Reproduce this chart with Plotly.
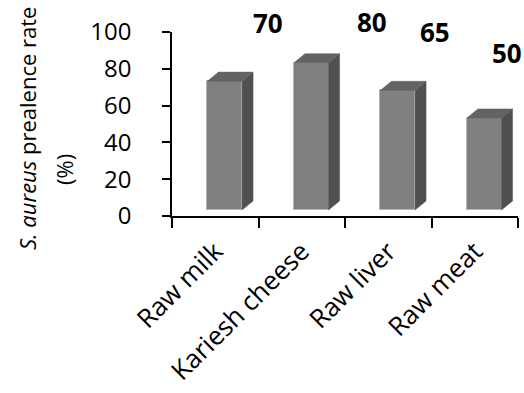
import plotly.graph_objects as go

# Prevalence of S. aureus by sample type
categories = ["Raw milk", "Kariesh cheese", "Raw liver", "Raw meat"]
prevalence = [70, 80, 65, 50]
value_labels = ["70", "80", "65", "50"]

# label anchor positions (axis units) for the value annotations
label_x = [0.61, 1.81, 2.54, 3.37]
label_y = [105, 105.5, 100, 88.6]

FONT = "Open Sans"
floor = 3.3          # raised floor of the pseudo-3D bars
bar_shift = 0.11     # bars sit slightly right of the category centre
bar_w = 0.40
depth_x = 0.127      # oblique depth of the extruded faces
depth_y = 4.9
x_range = [-0.5, 3.5]
y_range = [0, 100]

front_col = "#808080"
side_col = "#505050"
top_col = "#636363"

fig = go.Figure()

xs = [i + bar_shift for i in range(len(categories))]

# side and top faces of each bar
for xc, v in zip(xs, prevalence):
    x0, x1 = xc - bar_w / 2, xc + bar_w / 2
    top = floor + v
    fig.add_trace(go.Scatter(
        x=[x1, x1 + depth_x, x1 + depth_x, x1, x1],
        y=[floor, floor + depth_y, top + depth_y, top, floor],
        fill="toself", fillcolor=side_col, mode="lines",
        line=dict(color=side_col, width=0.5), hoverinfo="skip", showlegend=False))
    fig.add_trace(go.Scatter(
        x=[x0, x0 + depth_x, x1 + depth_x, x1, x0],
        y=[top, top + depth_y, top + depth_y, top, top],
        fill="toself", fillcolor=top_col, mode="lines",
        line=dict(color=top_col, width=0.5), hoverinfo="skip", showlegend=False))

# front faces
fig.add_trace(go.Bar(
    x=xs, y=prevalence, base=floor, width=bar_w,
    marker=dict(color=front_col, line=dict(color="#b4b4b4", width=1)),
    showlegend=False, hoverinfo="skip"))

# value labels sit above the plot area, so place them in paper units
for lx, ly, t in zip(label_x, label_y, value_labels):
    px = (lx - x_range[0]) / (x_range[1] - x_range[0])
    py = (ly - y_range[0]) / (y_range[1] - y_range[0])
    fig.add_annotation(x=px, y=py, xref="paper", yref="paper", xanchor="center",
                       yanchor="middle", text="<b>" + t + "</b>", showarrow=False,
                       font=dict(family=FONT, size=26, color="black"))

# y-axis title, drawn as two rotated lines
fig.add_annotation(x=(27 - 172) / 346, y=(216 - 129) / 184, xref="paper", yref="paper",
                   xanchor="center", yanchor="middle",
                   text="<i>S. aureus</i> prealence rate", textangle=-90, showarrow=False,
                   font=dict(family=FONT, size=22, color="black"))
fig.add_annotation(x=(64 - 172) / 346, y=(216 - 170) / 184, xref="paper", yref="paper",
                   xanchor="center", yanchor="middle",
                   text="(%)", textangle=-90, showarrow=False,
                   font=dict(family=FONT, size=22, color="black"))

fig.update_layout(
    width=524, height=393,
    margin=dict(l=172, r=6, t=32, b=177, autoexpand=False),
    plot_bgcolor="white", paper_bgcolor="white",
    bargap=0,
    font=dict(family=FONT, size=22, color="black"),
)
fig.update_xaxes(
    range=x_range, tickmode="array", tickvals=list(range(len(categories))),
    ticktext=categories, tickangle=-45, ticks="", showgrid=False, zeroline=False,
    showline=True, linecolor="black", linewidth=1.5, ticklabelstandoff=8, automargin=False,
    tickfont=dict(family=FONT, size=26),
    minor=dict(tickmode="array", tickvals=[i - 0.5 for i in range(len(categories) + 1)],
               ticks="outside", ticklen=10, tickcolor="black", tickwidth=1.5, showgrid=False),
)
fig.update_yaxes(
    range=y_range, tickmode="array", tickvals=[0, 20, 40, 60, 80, 100],
    ticks="outside", ticklen=8, tickcolor="black", tickwidth=1.5, ticklabelstandoff=26,
    showgrid=False, zeroline=False, showline=True, linecolor="black", linewidth=1.5,
    automargin=False, tickfont=dict(family=FONT, size=24),
)

fig.write_html("out.html")
